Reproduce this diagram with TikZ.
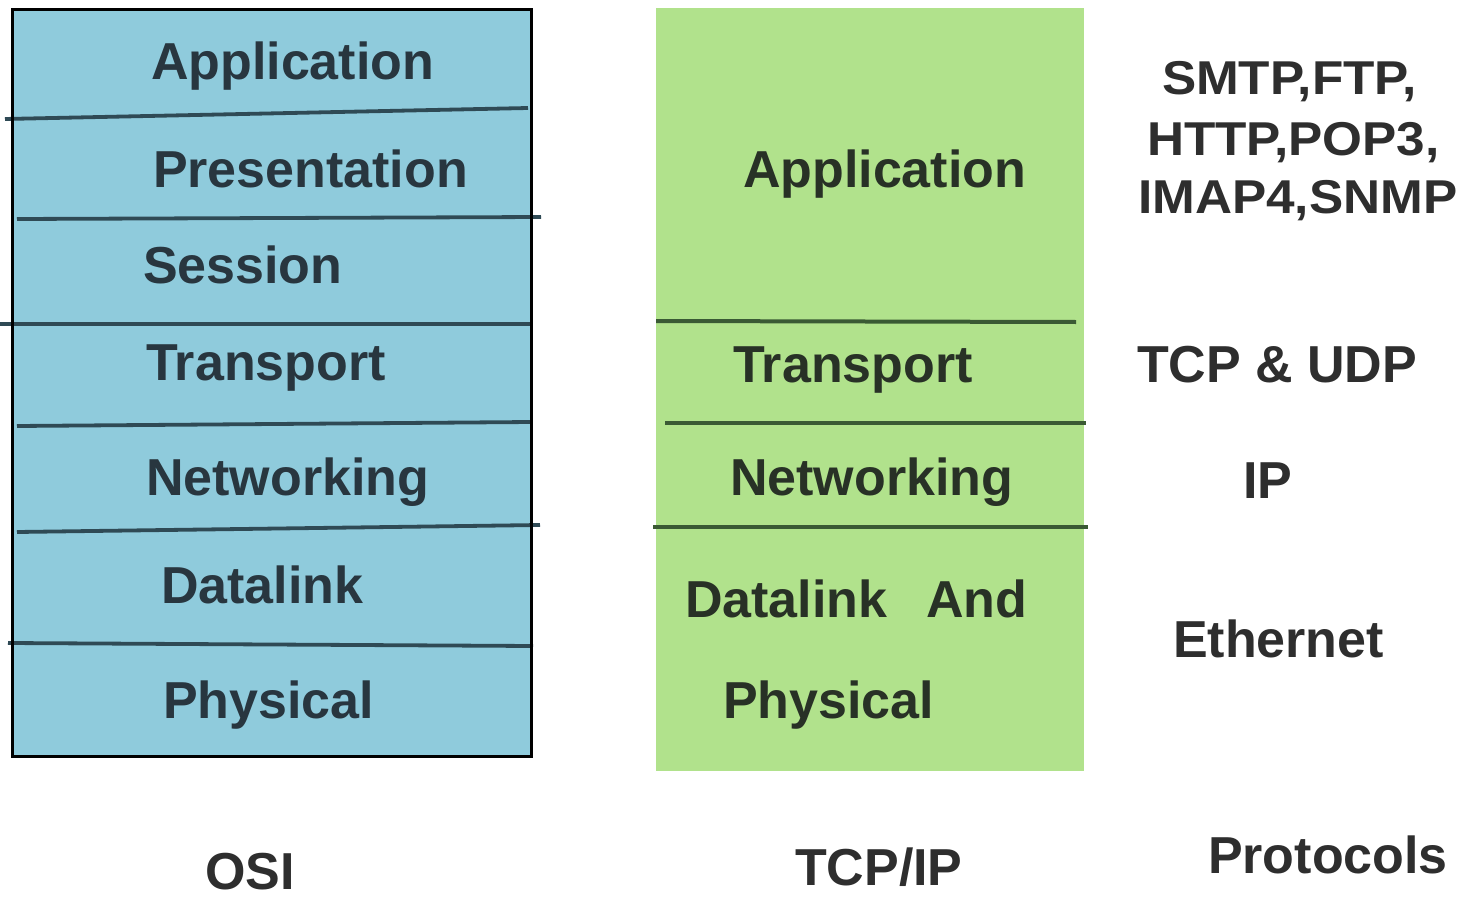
\documentclass[tikz,border=0pt]{standalone}
\usepackage{fontspec}
\setmainfont{Liberation Sans}
\usepackage{graphicx}

\definecolor{osiFill}{HTML}{8FCBDC}
\definecolor{osiLine}{HTML}{2F4A55}
\definecolor{osiText}{HTML}{28363F}
\definecolor{tcpFill}{HTML}{B1E28C}
\definecolor{tcpLine}{HTML}{3A5A34}
\definecolor{tcpText}{HTML}{283126}
\definecolor{protText}{HTML}{2E2E2E}

\tikzset{
  lbl/.style={anchor=base west, inner sep=0pt, outer sep=0pt,
              font=\bfseries\fontsize{52}{58}\selectfont},
  ositxt/.style={lbl, text=osiText},
  tcptxt/.style={lbl, text=tcpText},
  prottxt/.style={lbl, text=protText},
  osiline/.style={draw=osiLine, line width=3.8pt},
  tcpline/.style={draw=tcpLine, line width=4pt},
}

\begin{document}
\begin{tikzpicture}[x=1pt, y=-1pt]
\useasboundingbox (0,0) rectangle (1460,899);

% OSI stack
\fill[osiFill] (12,10) rectangle (531,756);
\draw[osiline] (5,119) -- (528,108);
\draw[osiline] (17,219) -- (541,217);
\draw[osiline] (0,324) -- (531,324);
\draw[osiline] (17,426) -- (531,422);
\draw[osiline] (17,532) -- (540,525);
\draw[osiline] (8,643) -- (533,646);
\draw[black, line width=3pt] (12,10) rectangle (531,756);

\node[ositxt] (osiApp)  at (151,80)  {Application};
\node[ositxt] (osiPres) at (153,187) {Presentation};
\node[ositxt] (osiSess) at (143,283) {Session};
\node[ositxt] (osiTrans) at (146,380) {Transport};
\node[ositxt] (osiNet)  at (146,495) {Networking};
\node[ositxt] (osiData) at (161,603) {Datalink};
\node[ositxt] (osiPhys) at (163,718) {Physical};

% TCP/IP stack
\fill[tcpFill] (656,8) rectangle (1084,771);
\draw[tcpline] (656,321) -- (1076,322);
\draw[tcpline] (665,423) -- (1086,423);
\draw[tcpline] (653,527) -- (1088,527);

\node[tcptxt] (tcpApp)   at (743,187) {Application};
\node[tcptxt] (tcpTrans) at (733,382) {Transport};
\node[tcptxt] (tcpNet)   at (730,495) {Networking};
\node[tcptxt] (tcpData)  at (685,617) {Datalink\hspace{39pt}And};
\node[tcptxt] (tcpPhys)  at (723,718) {Physical};

% Protocols column
\node[prottxt] (pApp1) at (1162,95)  {\scalebox{1.08}[1]{\fontsize{47.5}{52}\selectfont SMTP,FTP,}};
\node[prottxt] (pApp2) at (1147,155) {\scalebox{1.08}[1]{\fontsize{47.5}{52}\selectfont HTTP,POP3,}};
\node[prottxt] (pApp3) at (1138,213) {\scalebox{1.08}[1]{\fontsize{47.5}{52}\selectfont IMAP4,SNMP}};
\node[prottxt] (pTrans) at (1137,382) {TCP \& UDP};
\node[prottxt] (pNet)   at (1243,498) {IP};
\node[prottxt] (pLink)  at (1173,657) {Ethernet};

% Column captions
\node[prottxt] (capOsi)  at (205,889) {OSI};
\node[prottxt] (capTcp)  at (795,885) {TCP/IP};
\node[prottxt] (capProt) at (1208,873) {Protocols};
\end{tikzpicture}
\end{document}
